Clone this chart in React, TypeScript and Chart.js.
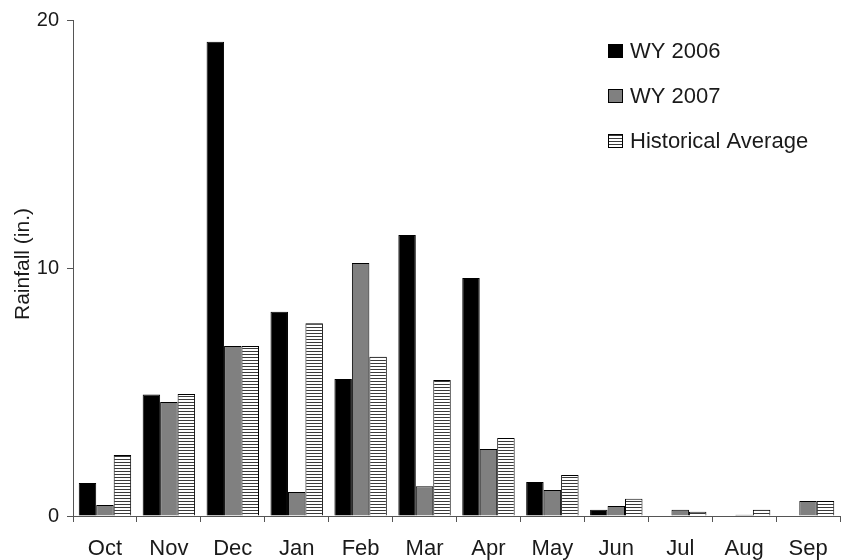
import React, { useEffect, useRef } from "react";
import { Chart, registerables } from "chart.js";

Chart.register(...registerables);

const months = ["Oct", "Nov", "Dec", "Jan", "Feb", "Mar", "Apr", "May", "Jun", "Jul", "Aug", "Sep"];
const wy2006 = [1.33, 4.9, 19.12, 8.24, 5.52, 11.33, 9.6, 1.37, 0.25, 0, 0, 0];
const wy2007 = [0.44, 4.6, 6.85, 0.97, 10.2, 1.2, 2.7, 1.05, 0.4, 0.25, 0.05, 0.6];
const histAvg = [2.46, 4.92, 6.85, 7.77, 6.42, 5.48, 3.15, 1.65, 0.7, 0.17, 0.25, 0.6];
const seriesNames = ["WY 2006", "WY 2007", "Historical Average"];
const yTicks = [0, 10, 20];
const yTitle = "Rainfall (in.)";

const FONT = "Arial, 'Liberation Sans', sans-serif";

function makeStripePattern(ctx: CanvasRenderingContext2D): CanvasPattern | string {
  const c = document.createElement("canvas");
  c.width = 4;
  c.height = 3;
  const g = c.getContext("2d");
  if (!g) return "#fff";
  g.fillStyle = "#ffffff";
  g.fillRect(0, 0, 4, 3);
  g.fillStyle = "#3a3a3a";
  g.fillRect(0, 0, 4, 1);
  const p = ctx.createPattern(c, "repeat");
  return p || "#fff";
}

export default function App() {
  const ref = useRef<HTMLCanvasElement | null>(null);

  useEffect(() => {
    const canvas = ref.current;
    if (!canvas) return;
    const ctx = canvas.getContext("2d");
    if (!ctx) return;
    const stripes = makeStripePattern(ctx);
    const fills: any[] = ["#000000", "#808080", stripes];

    const overlay = {
      id: "overlay",
      afterDraw(chart: any) {
        const c = chart.ctx as CanvasRenderingContext2D;
        c.save();
        // legend
        c.font = `22px ${FONT}`;
        c.textBaseline = "alphabetic";
        c.textAlign = "left";
        const rows = [58, 103, 148];
        seriesNames.forEach((name, i) => {
          const by = rows[i] - 14;
          c.fillStyle = fills[i];
          c.fillRect(608, by, 14, 13);
          c.strokeStyle = "#000";
          c.lineWidth = 1;
          c.strokeRect(608.5, by + 0.5, 14, 13);
          c.fillStyle = "#1a1a1a";
          c.fillText(name, 630, rows[i]);
        });
        // y title
        c.translate(23, 264);
        c.rotate(-Math.PI / 2);
        c.textAlign = "center";
        c.textBaseline = "middle";
        c.font = `21px ${FONT}`;
        c.fillStyle = "#1a1a1a";
        c.fillText(yTitle, 0, 0);
        c.restore();
      },
    };

    const chart = new Chart(ctx, {
      type: "bar",
      data: {
        labels: months,
        datasets: [
          { label: seriesNames[0], data: wy2006, backgroundColor: fills[0], borderColor: "#000", borderWidth: 1 },
          { label: seriesNames[1], data: wy2007, backgroundColor: fills[1], borderColor: "#000", borderWidth: 1 },
          { label: seriesNames[2], data: histAvg, backgroundColor: fills[2], borderColor: "#000", borderWidth: 1 },
        ],
      },
      options: {
        responsive: false,
        animation: false,
        layout: { padding: { top: 20, right: 7, left: 0, bottom: 0 } },
        plugins: { legend: { display: false }, tooltip: { enabled: false } },
        datasets: { bar: { categoryPercentage: 0.82, barPercentage: 1.0 } } as any,
        scales: {
          x: {
            offset: true,
            grid: { offset: true, drawOnChartArea: false, drawTicks: true, tickLength: 6, color: "#555" },
            border: { color: "#555", width: 1 },
            ticks: { color: "#1a1a1a", font: { size: 22, family: FONT }, padding: 14, maxRotation: 0 },
            afterFit(scale: any) { scale.height = 44; },
          },
          y: {
            min: 0,
            max: 20,
            afterBuildTicks(scale: any) { scale.ticks = yTicks.map((v) => ({ value: v })); },
            grid: { drawOnChartArea: false, drawTicks: true, tickLength: 6, color: "#555" },
            border: { color: "#555", width: 1 },
            ticks: { color: "#1a1a1a", font: { size: 20, family: FONT }, padding: 8 },
            afterFit(scale: any) { scale.width = 73; },
          },
        },
      },
      plugins: [overlay],
    });
    return () => chart.destroy();
  }, []);

  return (
    <div style={{ position: "fixed", left: 0, top: 0, width: 847, height: 560, background: "#fff" }}>
      <canvas ref={ref} width={847} height={560} style={{ display: "block" }} />
    </div>
  );
}
